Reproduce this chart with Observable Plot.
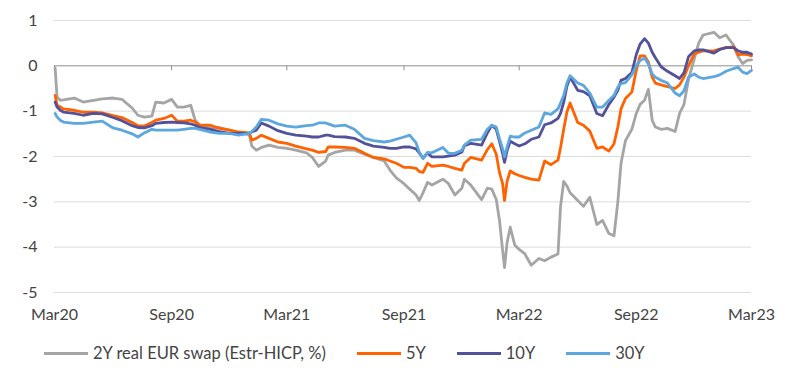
<!DOCTYPE html>
<html><head><meta charset="utf-8">
<script src="https://cdn.jsdelivr.net/npm/d3@7"></script>
<script src="https://cdn.jsdelivr.net/npm/@observablehq/plot@0.6"></script>
<style>
body{margin:0;background:#fff;font-family:Lato,"Open Sans",sans-serif;}
#legend{display:flex;align-items:center;margin-top:14px;padding-left:44px;font-size:16.5px;color:#444;height:18px;line-height:18px}
.item{display:flex;align-items:center;margin-right:31px;white-space:nowrap}
.sw{width:44px;height:3px;margin-right:5px}
</style></head><body>
<div id="chart"></div>
<div id="legend"></div>
<script>
const dates = ["2020-03-02","2020-03-05","2020-03-10","2020-03-15","2020-04-01","2020-04-15","2020-05-01","2020-05-15","2020-06-01","2020-06-15",
"2020-07-01","2020-07-10","2020-07-20","2020-08-01","2020-08-07","2020-08-20","2020-09-01","2020-09-10","2020-09-20","2020-10-01",
"2020-10-08","2020-10-15","2020-11-01","2020-11-15","2020-12-01","2020-12-15","2021-01-01","2021-01-05","2021-01-12","2021-01-20",
"2021-02-01","2021-02-15","2021-03-01","2021-03-15","2021-04-01","2021-04-10","2021-04-20","2021-05-01","2021-05-05","2021-05-15",
"2021-06-01","2021-06-15","2021-07-01","2021-07-15","2021-08-01","2021-08-10","2021-08-20","2021-09-01","2021-09-10","2021-09-20",
"2021-09-25","2021-10-01","2021-10-08","2021-10-15","2021-11-01","2021-11-10","2021-11-20","2021-12-01","2021-12-05","2021-12-15",
"2022-01-01","2022-01-10","2022-01-17","2022-01-24","2022-01-29","2022-02-03","2022-02-06","2022-02-10","2022-02-15","2022-02-22",
"2022-03-01","2022-03-10","2022-03-20","2022-04-01","2022-04-10","2022-04-20","2022-05-01","2022-05-05","2022-05-10","2022-05-15",
"2022-05-20","2022-06-01","2022-06-10","2022-06-20","2022-07-01","2022-07-10","2022-07-20","2022-07-28","2022-08-03","2022-08-08",
"2022-08-15","2022-08-25","2022-09-01","2022-09-07","2022-09-14","2022-09-20","2022-09-26","2022-10-01","2022-10-10","2022-10-20",
"2022-11-01","2022-11-08","2022-11-15","2022-11-22","2022-12-01","2022-12-08","2022-12-15","2023-01-01","2023-01-10","2023-01-20",
"2023-02-01","2023-02-08","2023-02-15","2023-02-22","2023-03-01"];

const swap2y = [-0.05,-0.69,-0.76,-0.75,-0.71,-0.80,-0.76,-0.73,-0.71,-0.74,
-0.93,-1.09,-1.13,-1.11,-0.80,-0.82,-0.74,-0.91,-0.91,-0.87,
-1.20,-1.31,-1.36,-1.36,-1.42,-1.48,-1.52,-1.77,-1.86,-1.80,
-1.75,-1.80,-1.82,-1.86,-1.92,-2.02,-2.22,-2.10,-1.97,-1.91,
-1.86,-1.86,-1.95,-2.02,-2.10,-2.30,-2.47,-2.60,-2.72,-2.85,
-2.97,-2.80,-2.57,-2.63,-2.50,-2.60,-2.85,-2.70,-2.50,-2.63,
-2.95,-2.70,-2.72,-2.95,-3.40,-4.07,-4.45,-3.90,-3.56,-3.95,
-4.05,-4.15,-4.40,-4.25,-4.30,-4.22,-4.15,-3.10,-2.55,-2.65,
-2.80,-2.97,-3.10,-2.90,-3.50,-3.41,-3.70,-3.75,-3.00,-2.15,
-1.65,-1.40,-1.05,-0.85,-0.76,-0.52,-1.20,-1.35,-1.40,-1.38,
-1.45,-1.05,-0.85,-0.30,0.15,0.50,0.68,0.74,0.62,0.68,
0.45,0.20,0.05,0.12,0.13];

const swap5y = [-0.65,-0.87,-0.91,-0.95,-0.98,-1.02,-1.02,-1.04,-1.10,-1.14,
-1.25,-1.32,-1.33,-1.25,-1.20,-1.16,-1.09,-1.22,-1.22,-1.20,
-1.24,-1.31,-1.31,-1.38,-1.42,-1.46,-1.48,-1.64,-1.60,-1.53,
-1.60,-1.68,-1.71,-1.77,-1.83,-1.86,-1.91,-1.89,-1.79,-1.79,
-1.80,-1.82,-1.93,-2.02,-2.05,-2.10,-2.15,-2.24,-2.24,-2.26,
-2.33,-2.35,-2.15,-2.22,-2.19,-2.22,-2.26,-2.30,-2.15,-2.02,
-2.08,-1.85,-1.72,-1.95,-2.35,-2.60,-2.97,-2.55,-2.32,-2.38,
-2.42,-2.46,-2.50,-2.52,-2.10,-2.18,-2.08,-1.80,-1.40,-1.02,
-0.82,-1.25,-1.31,-1.44,-1.82,-1.79,-1.88,-1.72,-1.35,-0.95,
-0.72,-0.58,-0.10,0.22,0.22,0.08,-0.25,-0.38,-0.42,-0.46,
-0.50,-0.42,-0.25,0.00,0.26,0.30,0.33,0.33,0.37,0.40,
0.42,0.24,0.26,0.25,0.22];

const swap10y = [-0.80,-0.91,-0.98,-1.02,-1.05,-1.09,-1.05,-1.06,-1.14,-1.21,
-1.32,-1.36,-1.37,-1.32,-1.27,-1.25,-1.24,-1.25,-1.26,-1.28,
-1.31,-1.36,-1.40,-1.45,-1.49,-1.49,-1.49,-1.46,-1.42,-1.26,
-1.33,-1.43,-1.49,-1.53,-1.55,-1.57,-1.57,-1.53,-1.53,-1.56,
-1.57,-1.60,-1.71,-1.77,-1.80,-1.82,-1.82,-1.79,-1.79,-1.83,
-1.92,-2.04,-1.92,-2.01,-2.01,-1.99,-1.97,-1.90,-1.76,-1.71,
-1.75,-1.48,-1.31,-1.40,-1.66,-1.93,-2.13,-1.87,-1.66,-1.72,
-1.77,-1.72,-1.62,-1.57,-1.30,-1.26,-1.16,-1.05,-0.80,-0.45,
-0.25,-0.54,-0.57,-0.66,-1.05,-1.10,-0.85,-0.69,-0.54,-0.32,
-0.28,-0.15,0.25,0.48,0.60,0.50,0.30,0.18,-0.02,-0.12,
-0.22,-0.28,-0.15,0.20,0.33,0.35,0.35,0.28,0.36,0.40,
0.40,0.33,0.30,0.30,0.26];

const swap30y = [-1.05,-1.13,-1.20,-1.24,-1.27,-1.27,-1.24,-1.22,-1.37,-1.42,
-1.50,-1.57,-1.48,-1.40,-1.42,-1.42,-1.42,-1.42,-1.40,-1.38,
-1.38,-1.40,-1.46,-1.49,-1.49,-1.53,-1.49,-1.45,-1.35,-1.18,
-1.20,-1.28,-1.33,-1.35,-1.32,-1.31,-1.26,-1.26,-1.28,-1.33,
-1.31,-1.40,-1.60,-1.65,-1.68,-1.66,-1.62,-1.57,-1.53,-1.70,
-1.90,-2.04,-1.91,-1.92,-1.80,-1.93,-1.93,-1.86,-1.75,-1.64,
-1.62,-1.40,-1.31,-1.35,-1.60,-1.83,-2.01,-1.79,-1.55,-1.57,
-1.57,-1.48,-1.42,-1.35,-1.04,-1.07,-0.95,-0.82,-0.65,-0.38,
-0.22,-0.38,-0.43,-0.60,-0.91,-0.91,-0.76,-0.65,-0.47,-0.39,
-0.37,-0.20,0.00,0.12,0.17,0.04,-0.18,-0.25,-0.32,-0.38,
-0.60,-0.66,-0.55,-0.25,-0.18,-0.25,-0.28,-0.24,-0.20,-0.12,
-0.06,-0.03,-0.14,-0.17,-0.10];

const seriesNames = ["2Y real EUR swap (Estr-HICP, %)", "5Y", "10Y", "30Y"];
const seriesColors = ["#a5a5a5", "#ff6200", "#525199", "#5ba7de"];
const yTicks = [-5, -4, -3, -2, -1, 0, 1];
const xTickDates = ["2020-03-01","2020-09-01","2021-03-01","2021-09-01","2022-03-01","2022-09-01","2023-03-01"];

const parse = d3.utcParse("%Y-%m-%d");
const allSeries = [swap2y, swap5y, swap10y, swap30y];
const data = allSeries.flatMap((vals, si) =>
  dates.map((d, i) => ({date: parse(d), value: vals[i], series: seriesNames[si]})));
const xTicks = xTickDates.map(parse);
const fmt = d3.utcFormat("%b%y");

const chart = Plot.plot({
  width: 800,
  height: 330,
  marginLeft: 54,
  marginRight: 49,
  marginTop: 20,
  marginBottom: 38,
  style: {fontFamily: "Lato, 'Open Sans', sans-serif", fontSize: "16px", color: "#444", background: "#fff"},
  x: {type: "utc", domain: [parse("2020-03-01"), parse("2023-03-01")], label: null},
  y: {domain: [-5, 1], label: null},
  color: {domain: seriesNames, range: seriesColors},
  marks: [
    Plot.ruleY(yTicks.filter(d => d !== 0), {stroke: "#dcdcdc", strokeWidth: 1}),
    Plot.ruleY([0], {stroke: "#8e8e8e", strokeWidth: 1}),
    Plot.ruleX(xTicks, {x: d => d, y1: 0, y2: -0.11, stroke: "#8e8e8e", strokeWidth: 1}),
    Plot.line(data, {x: "date", y: "value", z: "series", stroke: "series", strokeWidth: 2.8, strokeLinejoin: "round"}),
    Plot.axisX({ticks: xTicks, tickFormat: fmt, tickSize: 0, tickPadding: 16}),
    Plot.axisY({ticks: yTicks, tickSize: 0, tickPadding: 17, tickFormat: d => d})
  ]
});
document.getElementById("chart").appendChild(chart);

const legend = document.getElementById("legend");
seriesNames.forEach((name, i) => {
  const item = document.createElement("div");
  item.className = "item";
  const sw = document.createElement("span");
  sw.className = "sw";
  sw.style.background = seriesColors[i];
  const label = document.createElement("span");
  label.textContent = name;
  item.appendChild(sw);
  item.appendChild(label);
  legend.appendChild(item);
});
</script>
</body></html>
